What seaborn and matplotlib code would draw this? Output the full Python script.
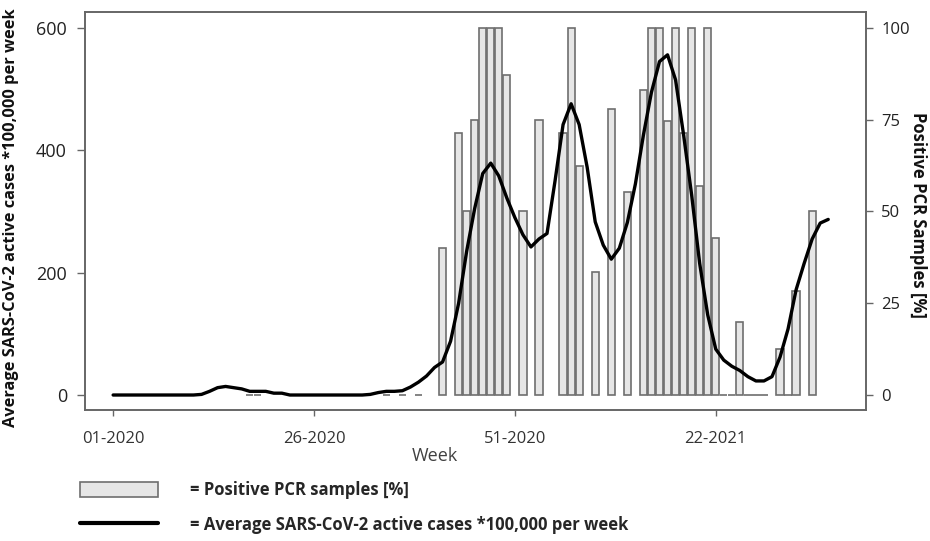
import numpy as np
import matplotlib
matplotlib.use("Agg")
import matplotlib.pyplot as plt
import seaborn as sns
from matplotlib.patches import Patch
from matplotlib.lines import Line2D

# -----------------------------
# Data (week index 0 = 01-2020)
# -----------------------------
line_weeks = np.arange(90)
avg_cases = [0, 0, 0, 0, 0, 0, 0, 0, 0, 0,
             0, 1, 6, 12, 14, 12, 10, 6, 6, 6,
             3, 3, 0, 0, 0, 0, 0, 0, 0, 0,
             0, 0, 1, 4, 6, 6, 7, 13, 21, 31,
             45, 54, 88, 150, 235, 305, 362, 379, 358, 322,
             290, 262, 242, 255, 264, 350, 442, 476, 442, 372,
             283, 245, 222, 240, 282, 345, 425, 495, 545, 556,
             515, 425, 327, 215, 131, 75, 57, 47, 40, 30,
             23, 23, 30, 62, 108, 172, 215, 255, 281, 287]

bar_weeks = [17, 18, 34, 36, 38, 41, 43, 44, 45, 46, 47, 48, 49, 51, 53,
             56, 57, 58, 60, 62, 64, 66, 67, 68, 69, 70, 71, 72, 73, 74, 75,
             76, 77, 78, 79, 80, 81, 83, 84, 85, 87]
positive_pct = [0, 0, 0, 0, 0, 40, 71.5, 50, 75, 100, 100, 100, 87.3, 50, 75,
                71.5, 100, 62.3, 33.4, 77.9, 55.4, 83.2, 100, 100, 74.7, 100, 71.5, 100, 56.8, 100, 42.8,
                0, 0, 20, 0, 0, 0, 12.5, 0, 28.4, 50]

tick_weeks = [0, 25, 50, 75]
tick_labels = ["01-2020", "26-2020", "51-2020", "22-2021"]

# Style
sns.set_theme(style="white")
plt.rcParams['font.family'] = ['Open Sans', 'DejaVu Sans']

fig = plt.figure(figsize=(9.3, 5.41), dpi=100)
ax = fig.add_axes([85 / 930, 1 - 410 / 541, 781 / 930, 398 / 541])
ax2 = ax.twinx()

# bars (right axis, %)
sns.barplot(x=bar_weeks, y=positive_pct, ax=ax2, native_scale=True,
            color="#e6e6e6", edgecolor="#6e6e6e", linewidth=1.2,
            saturation=1, errorbar=None, width=0.9)

# line (left axis, cases)
sns.lineplot(x=line_weeks, y=avg_cases, ax=ax, color="black", linewidth=2.4, legend=False)

ax.set_zorder(ax2.get_zorder() + 1)
ax.patch.set_visible(False)

ax.set_xlim(-3.5, 93.7)
ax.set_ylim(-24.5, 626)
ax2.set_ylim(-4.08, 104.33)
ax.set_yticks([0, 200, 400, 600])
ax2.set_yticks([0, 25, 50, 75, 100])
ax.set_xticks(tick_weeks)
ax.set_xticklabels(tick_labels)

for a in (ax, ax2):
    for s in a.spines.values():
        s.set_color("#666666")
        s.set_linewidth(1.2)

ax.tick_params(axis='y', which='major', left=True, length=6, width=1, color="#666666",
               pad=7, labelsize=13, labelcolor="#222222")
ax.tick_params(axis='x', which='major', bottom=True, length=4, width=1, color="#666666",
               pad=11, labelsize=12, labelcolor="#333333")
ax2.tick_params(axis='y', which='major', right=True, length=5, width=1, color="#666666",
                pad=6, labelsize=12, labelcolor="#222222")

ax.set_xlabel("Week", fontsize=13, color="#404040")
ax.xaxis.set_label_coords(0.448, -0.093)
ax.set_ylabel("Average SARS-CoV-2 active cases *100,000 per week",
              fontsize=11.8, fontweight="bold", color="#111111")
ax.yaxis.set_label_coords(-0.085, 0.482)
ax2.set_ylabel("Positive PCR Samples [%]", fontsize=12, fontweight="bold",
               color="#111111", rotation=270, va="bottom")
ax2.yaxis.set_label_coords(1.055, 0.49)

# legend below the chart
handles = [Patch(facecolor="#e6e6e6", edgecolor="#6e6e6e", linewidth=1.2),
           Line2D([0], [0], color="black", linewidth=3)]
labels = ["= Positive PCR samples [%]", "= Average SARS-CoV-2 active cases *100,000 per week"]
fig.legend(handles, labels, loc="upper left", bbox_to_anchor=(80 / 930, 1 - 481 / 541),
           frameon=False, prop={"weight": "bold", "size": 12},
           handlelength=4.67, handleheight=1.0, handletextpad=1.9,
           labelspacing=1.0, borderpad=0, borderaxespad=0)

plt.savefig("out.png", dpi=100)
plt.close()
